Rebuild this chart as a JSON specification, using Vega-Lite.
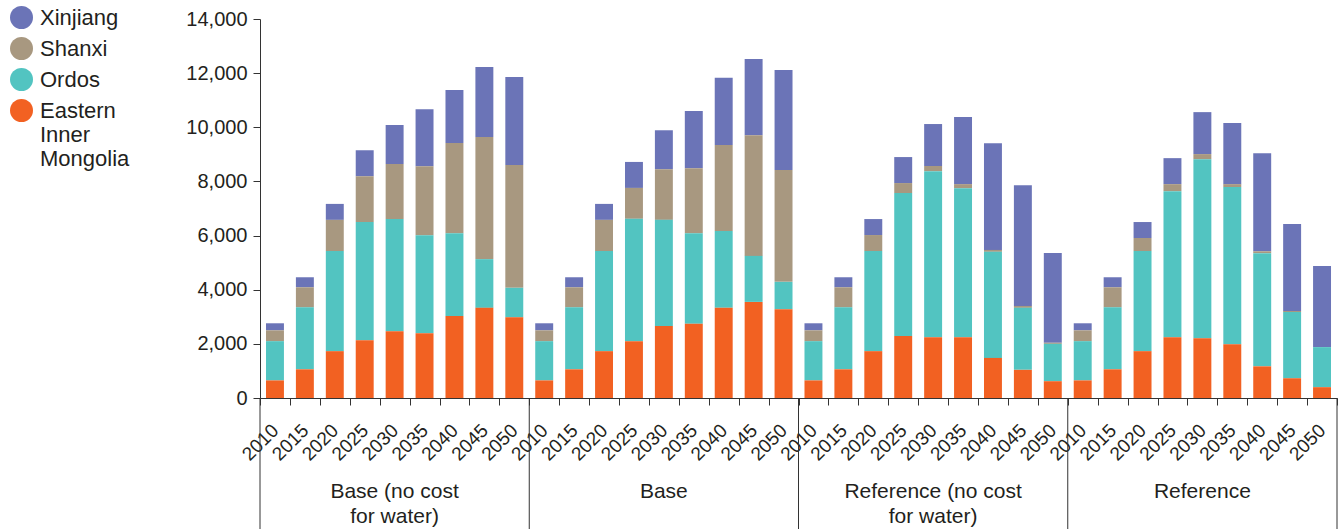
{
  "$schema": "https://vega.github.io/schema/vega-lite/v6.json",
  "width": 1077,
  "height": 379,
  "padding": {"left": 10, "top": 6, "right": 0, "bottom": 0},
  "background": "white",
  "config": {
    "view": {"stroke": null},
    "font": "Liberation Sans",
    "axis": {"domainColor": "#333", "tickColor": "#333", "labelColor": "#231f20", "domainWidth": 1, "tickWidth": 1}
  },
  "data": {"values": [
    {"bar": "Base (no cost for water) 2010", "group": "Base (no cost\nfor water)", "year": "2010", "Xinjiang": 260, "Shanxi": 400, "Ordos": 1450, "Eastern Inner Mongolia": 650},
    {"bar": "Base (no cost for water) 2015", "group": "Base (no cost\nfor water)", "year": "2015", "Xinjiang": 370, "Shanxi": 740, "Ordos": 2290, "Eastern Inner Mongolia": 1060},
    {"bar": "Base (no cost for water) 2020", "group": "Base (no cost\nfor water)", "year": "2020", "Xinjiang": 590, "Shanxi": 1150, "Ordos": 3700, "Eastern Inner Mongolia": 1730},
    {"bar": "Base (no cost for water) 2025", "group": "Base (no cost\nfor water)", "year": "2025", "Xinjiang": 960, "Shanxi": 1690, "Ordos": 4370, "Eastern Inner Mongolia": 2130},
    {"bar": "Base (no cost for water) 2030", "group": "Base (no cost\nfor water)", "year": "2030", "Xinjiang": 1440, "Shanxi": 2030, "Ordos": 4140, "Eastern Inner Mongolia": 2470},
    {"bar": "Base (no cost for water) 2035", "group": "Base (no cost\nfor water)", "year": "2035", "Xinjiang": 2110, "Shanxi": 2550, "Ordos": 3620, "Eastern Inner Mongolia": 2390},
    {"bar": "Base (no cost for water) 2040", "group": "Base (no cost\nfor water)", "year": "2040", "Xinjiang": 1960, "Shanxi": 3330, "Ordos": 3060, "Eastern Inner Mongolia": 3030},
    {"bar": "Base (no cost for water) 2045", "group": "Base (no cost\nfor water)", "year": "2045", "Xinjiang": 2590, "Shanxi": 4510, "Ordos": 1800, "Eastern Inner Mongolia": 3330},
    {"bar": "Base (no cost for water) 2050", "group": "Base (no cost\nfor water)", "year": "2050", "Xinjiang": 3250, "Shanxi": 4540, "Ordos": 1090, "Eastern Inner Mongolia": 2980},
    {"bar": "Base 2010", "group": "Base", "year": "2010", "Xinjiang": 260, "Shanxi": 400, "Ordos": 1450, "Eastern Inner Mongolia": 650},
    {"bar": "Base 2015", "group": "Base", "year": "2015", "Xinjiang": 370, "Shanxi": 740, "Ordos": 2290, "Eastern Inner Mongolia": 1060},
    {"bar": "Base 2020", "group": "Base", "year": "2020", "Xinjiang": 590, "Shanxi": 1150, "Ordos": 3700, "Eastern Inner Mongolia": 1730},
    {"bar": "Base 2025", "group": "Base", "year": "2025", "Xinjiang": 960, "Shanxi": 1140, "Ordos": 4520, "Eastern Inner Mongolia": 2100},
    {"bar": "Base 2030", "group": "Base", "year": "2030", "Xinjiang": 1440, "Shanxi": 1870, "Ordos": 3920, "Eastern Inner Mongolia": 2660},
    {"bar": "Base 2035", "group": "Base", "year": "2035", "Xinjiang": 2110, "Shanxi": 2400, "Ordos": 3350, "Eastern Inner Mongolia": 2740},
    {"bar": "Base 2040", "group": "Base", "year": "2040", "Xinjiang": 2480, "Shanxi": 3180, "Ordos": 2840, "Eastern Inner Mongolia": 3330},
    {"bar": "Base 2045", "group": "Base", "year": "2045", "Xinjiang": 2810, "Shanxi": 4460, "Ordos": 1700, "Eastern Inner Mongolia": 3550},
    {"bar": "Base 2050", "group": "Base", "year": "2050", "Xinjiang": 3700, "Shanxi": 4130, "Ordos": 1010, "Eastern Inner Mongolia": 3280},
    {"bar": "Reference (no cost for water) 2010", "group": "Reference (no cost\nfor water)", "year": "2010", "Xinjiang": 260, "Shanxi": 400, "Ordos": 1450, "Eastern Inner Mongolia": 650},
    {"bar": "Reference (no cost for water) 2015", "group": "Reference (no cost\nfor water)", "year": "2015", "Xinjiang": 370, "Shanxi": 740, "Ordos": 2290, "Eastern Inner Mongolia": 1060},
    {"bar": "Reference (no cost for water) 2020", "group": "Reference (no cost\nfor water)", "year": "2020", "Xinjiang": 590, "Shanxi": 590, "Ordos": 3700, "Eastern Inner Mongolia": 1730},
    {"bar": "Reference (no cost for water) 2025", "group": "Reference (no cost\nfor water)", "year": "2025", "Xinjiang": 960, "Shanxi": 370, "Ordos": 5280, "Eastern Inner Mongolia": 2290},
    {"bar": "Reference (no cost for water) 2030", "group": "Reference (no cost\nfor water)", "year": "2030", "Xinjiang": 1550, "Shanxi": 190, "Ordos": 6140, "Eastern Inner Mongolia": 2240},
    {"bar": "Reference (no cost for water) 2035", "group": "Reference (no cost\nfor water)", "year": "2035", "Xinjiang": 2480, "Shanxi": 150, "Ordos": 5510, "Eastern Inner Mongolia": 2240},
    {"bar": "Reference (no cost for water) 2040", "group": "Reference (no cost\nfor water)", "year": "2040", "Xinjiang": 3940, "Shanxi": 70, "Ordos": 3920, "Eastern Inner Mongolia": 1480},
    {"bar": "Reference (no cost for water) 2045", "group": "Reference (no cost\nfor water)", "year": "2045", "Xinjiang": 4460, "Shanxi": 70, "Ordos": 2290, "Eastern Inner Mongolia": 1040},
    {"bar": "Reference (no cost for water) 2050", "group": "Reference (no cost\nfor water)", "year": "2050", "Xinjiang": 3320, "Shanxi": 40, "Ordos": 1380, "Eastern Inner Mongolia": 620},
    {"bar": "Reference 2010", "group": "Reference", "year": "2010", "Xinjiang": 260, "Shanxi": 400, "Ordos": 1450, "Eastern Inner Mongolia": 650},
    {"bar": "Reference 2015", "group": "Reference", "year": "2015", "Xinjiang": 370, "Shanxi": 740, "Ordos": 2290, "Eastern Inner Mongolia": 1060},
    {"bar": "Reference 2020", "group": "Reference", "year": "2020", "Xinjiang": 590, "Shanxi": 480, "Ordos": 3700, "Eastern Inner Mongolia": 1730},
    {"bar": "Reference 2025", "group": "Reference", "year": "2025", "Xinjiang": 960, "Shanxi": 260, "Ordos": 5400, "Eastern Inner Mongolia": 2240},
    {"bar": "Reference 2030", "group": "Reference", "year": "2030", "Xinjiang": 1550, "Shanxi": 190, "Ordos": 6610, "Eastern Inner Mongolia": 2210},
    {"bar": "Reference 2035", "group": "Reference", "year": "2035", "Xinjiang": 2260, "Shanxi": 110, "Ordos": 5800, "Eastern Inner Mongolia": 1990},
    {"bar": "Reference 2040", "group": "Reference", "year": "2040", "Xinjiang": 3620, "Shanxi": 70, "Ordos": 4180, "Eastern Inner Mongolia": 1170},
    {"bar": "Reference 2045", "group": "Reference", "year": "2045", "Xinjiang": 3220, "Shanxi": 30, "Ordos": 2450, "Eastern Inner Mongolia": 730},
    {"bar": "Reference 2050", "group": "Reference", "year": "2050", "Xinjiang": 3000, "Shanxi": 0, "Ordos": 1480, "Eastern Inner Mongolia": 400}
  ]},
  "layer": [
    {
      "transform": [{"fold": ["Xinjiang", "Shanxi", "Ordos", "Eastern Inner Mongolia"], "as": ["region", "value"]}],
      "mark": {"type": "bar", "width": {"band": 0.6}},
      "encoding": {
        "x": {
          "field": "bar", "type": "nominal", "sort": null,
          "scale": {"paddingInner": 0, "paddingOuter": 0},
          "axis": {"title": null, "labelExpr": "slice(datum.label, -4)", "labelAngle": -45, "labelAlign": "right", "labelBaseline": "middle", "labelFontSize": 19, "tickBand": "extent", "tickSize": 7, "labelPadding": 22}
        },
        "y": {
          "field": "value", "type": "quantitative", "stack": "zero",
          "scale": {"domain": [0, 14000], "nice": false},
          "axis": {"title": null, "values": [0, 2000, 4000, 6000, 8000, 10000, 12000, 14000], "format": ",.0f", "labelFontSize": 20, "tickSize": 7, "grid": false, "labelPadding": 6}
        },
        "color": {
          "field": "region", "type": "nominal",
          "scale": {"domain": ["Xinjiang", "Shanxi", "Ordos", "Eastern Inner Mongolia"], "range": ["#6b74b7", "#a89880", "#52c4c1", "#f26122"]},
          "legend": {
            "title": null, "orient": "none", "legendX": -250, "legendY": -13, "padding": 0,
            "symbolType": "circle", "symbolSize": 529, "symbolStrokeWidth": 0, "symbolOpacity": 1,
            "labelFontSize": 22, "labelColor": "#231f20", "labelOffset": 7, "rowPadding": 8, "labelLineHeight": 26,
            "labelExpr": "datum.label == 'Eastern Inner Mongolia' ? ['Eastern', 'Inner', 'Mongolia'] : datum.label"
          }
        },
        "order": {"field": "region", "sort": "ascending"}
      }
    },
    {
      "transform": [{"filter": "datum.year == '2010'"}],
      "mark": {"type": "rule", "color": "#333", "strokeWidth": 1},
      "encoding": {
        "x": {"field": "bar", "type": "nominal", "sort": null, "bandPosition": 0},
        "y": {"datum": 0},
        "y2": {"datum": -4900}
      }
    },
    {
      "transform": [{"filter": "datum.bar == 'Reference 2050'"}],
      "mark": {"type": "rule", "color": "#333", "strokeWidth": 1},
      "encoding": {
        "x": {"field": "bar", "type": "nominal", "sort": null, "bandPosition": 1},
        "y": {"datum": 0},
        "y2": {"datum": -4900}
      }
    },
    {
      "transform": [{"filter": "datum.year == '2030'"}],
      "mark": {"type": "text", "lineBreak": "\n", "fontSize": 21, "lineHeight": 25, "baseline": "alphabetic", "color": "#231f20"},
      "encoding": {
        "x": {"field": "bar", "type": "nominal", "sort": null},
        "y": {"datum": -3680},
        "text": {"field": "group"}
      }
    }
  ]
}
